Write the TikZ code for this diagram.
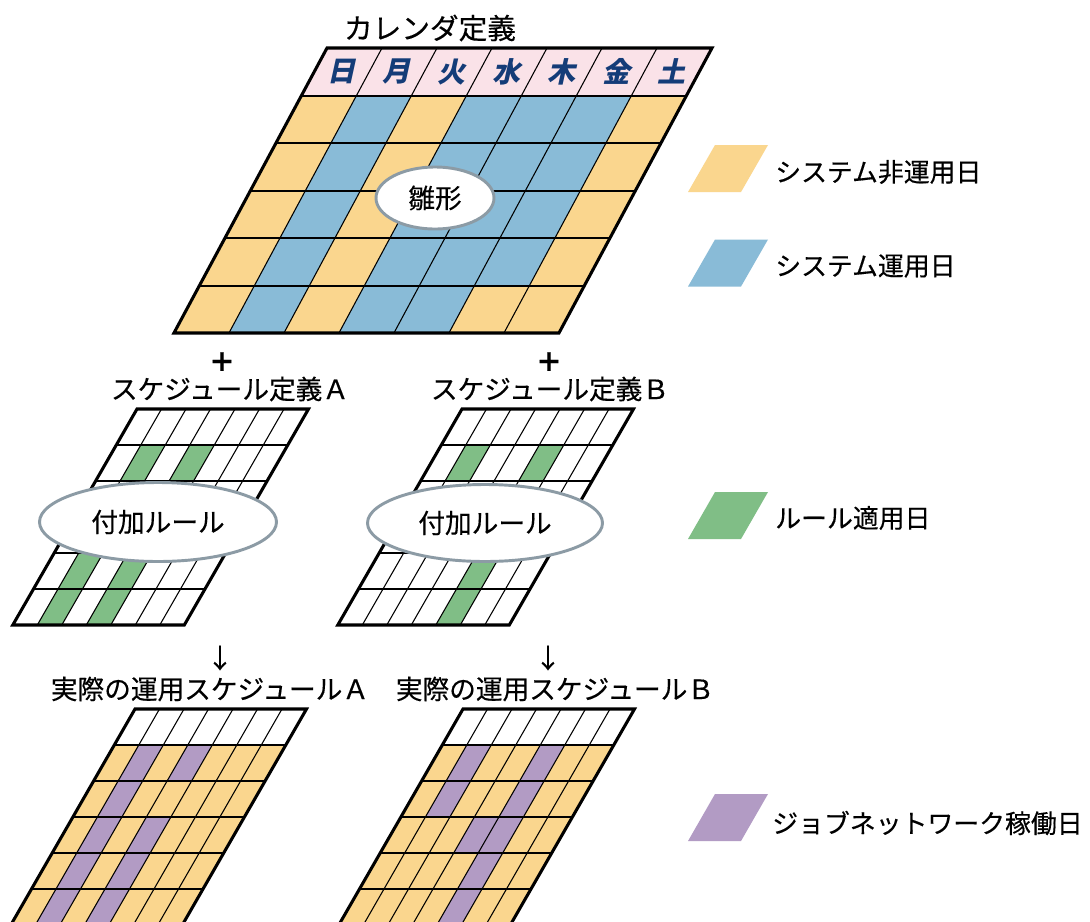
\documentclass[tikz,border=0pt]{standalone}
\usepackage{fontspec}
\usetikzlibrary{shapes.geometric}
\setmainfont{Noto Sans CJK JP}[FakeBold=0.35]
\newfontfamily\dayfont{Noto Sans CJK JP}[FakeSlant=0.22,BoldFeatures={FakeSlant=0.22}]
\newcommand\fs{\fontsize{20}{22}\selectfont}
\definecolor{cyel}{HTML}{FAD68E}
\definecolor{cblu}{HTML}{89BBD7}
\definecolor{cgrn}{HTML}{80BE86}
\definecolor{cpur}{HTML}{B29BC4}
\definecolor{cpink}{HTML}{FAE2E8}
\definecolor{cnavy}{HTML}{143C78}
\definecolor{cgray}{HTML}{8C9BA5}
\newcommand\cellfill[3]{\fill[#1] (#2*24.5,#3*36) rectangle ++(24.5,36);}
\newcommand\smallgrid[2]{%
\begin{scope}[shift={#1},xslant=0.575]
 #2
 \foreach \cc in {1,...,6}{\draw[colln] (\cc*24.5,0) -- (\cc*24.5,216);}
 \foreach \rr in {1,...,5}{\draw[rowln] (0,\rr*36) -- (171.5,\rr*36);}
 \draw[outer] (0,0) rectangle (171.5,216);
\end{scope}}
\begin{document}
\begin{tikzpicture}[x=0.75pt,y=-0.75pt,
  outer/.style={draw=black,line width=2.3pt,line join=miter},
  rowln/.style={draw=black,line width=1.5pt},
  colln/.style={draw=black,line width=0.8pt},
  txt/.style={font=\fs,inner sep=0pt,text=black},
  daylbl/.style={font=\dayfont\bfseries\fontsize{21}{22}\selectfont,text=cnavy,inner sep=0pt},
  ell/.style={ellipse,draw=cgray,line width=2.2pt,fill=white,inner sep=0pt,font=\fs},
  legtxt/.style={font=\fontsize{19.4}{22}\selectfont,inner sep=0pt,anchor=west}]
\useasboundingbox (0,0) rectangle (1090,922);
\clip (0,0) rectangle (1090,922);
\fill[white] (0,0) rectangle (1090,922);

% calendar
\node[txt,font=\fontsize{21.5}{24}\selectfont] (caltitle) at (430,28) {カレンダ定義};
\begin{scope}[shift={(327,48)},xslant=0.537]
  \fill[cpink] (0,0) rectangle (385,47.5);
  \fill[cyel] (0,47.5) rectangle (385,285);
  \foreach \rr in {1,...,4}{\foreach \cc in {1,3,4,5}{\fill[cblu] (\cc*55,\rr*47.5) rectangle ++(55,47.5);}}
  \foreach \cc in {1,3,4}{\fill[cblu] (\cc*55,5*47.5) rectangle ++(55,47.5);}
  \foreach \cc in {1,...,6}{\draw[colln] (\cc*55,0) -- (\cc*55,285);}
  \foreach \rr in {1,...,5}{\draw[rowln] (0,\rr*47.5) -- (385,\rr*47.5);}
  \draw[outer] (0,0) rectangle (385,285);
  \foreach \cc/\tt in {0/日,1/月,2/火,3/水,4/木,5/金,6/土}{\node[daylbl] (d\cc) at (\cc*55+27.5,23.75) {\tt};}
\end{scope}
\node[ell,minimum width=88.5pt,minimum height=46.5pt] (hina) at (435,198) {雛形};

% schedule A
\node[txt,font=\bfseries\fs] (plusA) at (222,362) {＋};
\node[txt] (schA) at (230,389) {スケジュール定義Ａ};
\smallgrid{(137,409)}{\cellfill{cgrn}{1}{1}\cellfill{cgrn}{3}{1}\cellfill{cgrn}{1}{4}\cellfill{cgrn}{3}{4}\cellfill{cgrn}{1}{5}\cellfill{cgrn}{3}{5}}
\node[ell,minimum width=177.75pt,minimum height=59.25pt] (ruleA) at (158,522) {付加ルール};

% schedule B
\node[txt,font=\bfseries\fs] (plusB) at (549,362) {＋};
\node[txt] (schB) at (550,389) {スケジュール定義Ｂ};
\smallgrid{(462,409)}{\cellfill{cgrn}{1}{1}\cellfill{cgrn}{4}{1}\cellfill{cgrn}{4}{4}\cellfill{cgrn}{4}{5}}
\node[ell,minimum width=176.25pt,minimum height=57.75pt] (ruleB) at (485,523) {付加ルール};

% result A
\node[txt] (arrA) at (220,658) {↓};
\node[txt] (resA) at (210,689) {実際の運用スケジュールＡ};
\smallgrid{(135,709)}{\fill[cyel] (0,36) rectangle (171.5,216);
 \foreach \cc/\rr in {1/1,3/1,1/2,1/3,3/3,1/4,3/4,1/5,3/5}{\cellfill{cpur}{\cc}{\rr}}}

% result B
\node[txt] (arrB) at (548,658) {↓};
\node[txt] (resB) at (555,689) {実際の運用スケジュールＢ};
\smallgrid{(463,709)}{\fill[cyel] (0,36) rectangle (171.5,216);
 \foreach \cc/\rr in {1/1,4/1,1/2,4/2,3/3,4/3,4/4,4/5}{\cellfill{cpur}{\cc}{\rr}}}

% legend
\begin{scope}[shift={(715,145)},xslant=0.574]\fill[cyel] (0,0) rectangle (53,47);\end{scope}
\node[legtxt] (lg1) at (775,172) {システム非運用日};
\begin{scope}[shift={(715,239.5)},xslant=0.574]\fill[cblu] (0,0) rectangle (53,47);\end{scope}
\node[legtxt] (lg2) at (775,266) {システム運用日};
\begin{scope}[shift={(715,492)},xslant=0.574]\fill[cgrn] (0,0) rectangle (53,47);\end{scope}
\node[legtxt] (lg3) at (775,518) {ルール適用日};
\begin{scope}[shift={(715,794)},xslant=0.574]\fill[cpur] (0,0) rectangle (53,47);\end{scope}
\node[legtxt] (lg4) at (772,823) {ジョブネットワーク稼働日};
\end{tikzpicture}
\end{document}
